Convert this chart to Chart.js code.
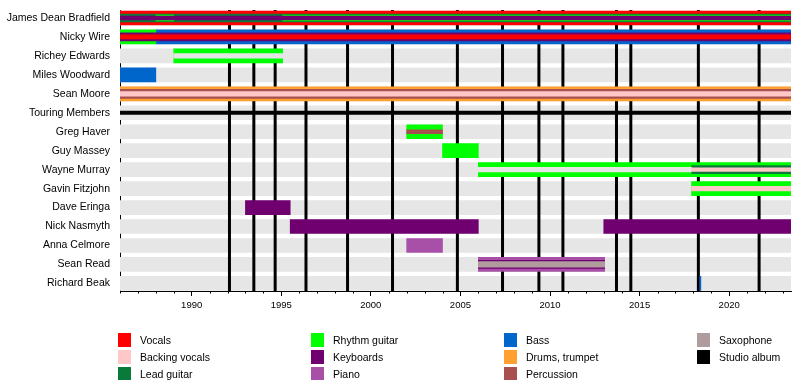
<!DOCTYPE html>
<html><head><meta charset="utf-8">
<script src="https://cdn.jsdelivr.net/npm/chart.js@4.4.0/dist/chart.umd.min.js"></script>
<style>
html,body{margin:0;padding:0;background:#fff;width:800px;height:380px;overflow:hidden;font-family:"Liberation Sans",Arial,sans-serif;}
#wrap{position:absolute;left:0;top:0;width:800px;height:380px;}
.li{position:absolute;font-size:10.5px;color:#000;white-space:nowrap;line-height:14px;}
.sw{position:absolute;width:13px;height:14px;}
</style></head><body>
<div id="wrap"><canvas id="c" width="800" height="380"></canvas></div>
<div id="legend"></div>
<script>
// ---------- data ----------
const START = 1986, END = 2023.45;
const members = ["James Dean Bradfield","Nicky Wire","Richey Edwards","Miles Woodward","Sean Moore","Touring Members","Greg Haver","Guy Massey","Wayne Murray","Gavin Fitzjohn","Dave Eringa","Nick Nasmyth","Anna Celmore","Sean Read","Richard Beak"];
const yearTicks = [1990,1995,2000,2005,2010,2015,2020];
const studioAlbums = [1992.11,1993.47,1994.66,1996.38,1998.70,2001.21,2004.83,2007.35,2009.38,2010.72,2013.71,2014.51,2018.28,2021.67];

// outer bars (full width)
const vocalsOuter = [["James Dean Bradfield",START,END]];
const rhythmOuter = [["Nicky Wire",START,1988],["Richey Edwards",1989,1995.08],["Greg Haver",2002,2004],["Guy Massey",2004,2006],["Wayne Murray",2006,END],["Gavin Fitzjohn",2017.9,END]];
const bassOuter = [["Nicky Wire",1988,END],["Miles Woodward",START,1988],["Richard Beak",2018.36,2018.42]];
const drumsOuter = [["Sean Moore",START,END]];
const keysOuter = [["Dave Eringa",1993,1995.5],["Nick Nasmyth",1995.5,2006],["Nick Nasmyth",2013,END]];
const pianoOuter = [["Anna Celmore",2002,2004],["Sean Read",2006,2013.05]];
const touringLine = [["Touring Members",START,END]];
// middle bars
const leadMid = [["James Dean Bradfield",START,END],["Wayne Murray",2017.9,END]];
const keysMid = [["Nicky Wire",START,END],["Sean Read",2006,2013.05]];
const percMid = [["Sean Moore",START,END]];
// inner bars
const rhythmInner = [["James Dean Bradfield",1988,1989],["James Dean Bradfield",1995.08,END]];
const gapInner = [["Richey Edwards",1989,1995.08],["Wayne Murray",2006,2017.9]];
const backingInner = [["Sean Moore",START,END],["Gavin Fitzjohn",2017.9,END]];
const percInner = [["Greg Haver",2002,2004]];
const saxInner = [["Sean Read",2006,2013.05]];
// innermost bars
const keysCore = [["James Dean Bradfield",START,END]];
const vocalsCore = [["Nicky Wire",START,END]];
const backingCore = [["Wayne Murray",2017.9,END]];

const legendLabels = ["Vocals","Backing vocals","Lead guitar","Rhythm guitar","Keyboards","Piano","Bass","Drums, trumpet","Percussion","Saxophone","Studio album"];
const C = {vocals:"#FF0000",backing:"#FFC8C8",lead:"#0A7A3A",rhythm:"#00FF00",keys:"#700070",piano:"#A850A8",bass:"#0066CC",drums:"#FFA030",perc:"#A85050",sax:"#B09C9C",album:"#000000",bg:"#E6E6E6"};
const legendColors = [C.vocals,C.backing,C.lead,C.rhythm,C.keys,C.piano,C.bass,C.drums,C.perc,C.sax,C.album];

// ---------- build ----------
const bgRows = members.map(m => [m, START, END]);
function ds(segs, color, thick, order){
  return {data: segs.map(s => ({x:[s[1], s[2]], y: members.indexOf(s[0])})),
    backgroundColor: color, barThickness: thick, order: order, borderWidth: 0, grouped: false};
}
const datasets = [
  Object.assign(ds(bgRows, C.bg, 14, 100), {id:"bg"}),
  ds(vocalsOuter, C.vocals, 14, 50), ds(rhythmOuter, C.rhythm, 14, 50), ds(bassOuter, C.bass, 14, 50),
  ds(drumsOuter, C.drums, 14, 50), ds(keysOuter, C.keys, 14, 50), ds(pianoOuter, C.piano, 14, 50),
  ds(touringLine, C.album, 3.3, 50),
  ds(leadMid, C.lead, 8, 40), ds(keysMid, C.keys, 8, 40), ds(percMid, C.perc, 9, 40),
  ds(rhythmInner, C.rhythm, 6, 30), ds(gapInner, C.bg, 4.5, 30), ds(backingInner, C.backing, 4.5, 30),
  ds(percInner, C.perc, 4, 30), ds(saxInner, C.sax, 5.5, 30),
  ds(keysCore, C.keys, 4, 20), ds(vocalsCore, C.vocals, 4, 20), ds(backingCore, C.backing, 3.5, 20)
];

const albumPlugin = {
  id: "albums",
  afterDatasetDraw(chart, args) {
    if (chart.data.datasets[args.index].id !== "bg") return;
    const ctx = chart.ctx, xs = chart.scales.x, a = chart.chartArea;
    ctx.save();
    ctx.strokeStyle = C.album; ctx.lineWidth = 3;
    studioAlbums.forEach(v => {
      const px = xs.getPixelForValue(v);
      ctx.beginPath(); ctx.moveTo(px, a.top); ctx.lineTo(px, a.bottom); ctx.stroke();
    });
    ctx.restore();
  },
  afterDraw(chart) {
    const ctx = chart.ctx, xs = chart.scales.x, a = chart.chartArea;
    ctx.save(); ctx.strokeStyle = "#000"; ctx.lineWidth = 1;
    for (let y = Math.ceil(START); y <= END; y++) {
      if (y % 5 === 0) continue;
      const px = Math.round(xs.getPixelForValue(y)) + 0.5;
      ctx.beginPath(); ctx.moveTo(px, a.bottom); ctx.lineTo(px, a.bottom + 2.5); ctx.stroke();
    }
    ctx.restore();
  }
};

const FONT = "'Liberation Sans', Arial, sans-serif";
new Chart(document.getElementById("c"), {
  type: "bar",
  data: { datasets },
  plugins: [albumPlugin],
  options: {
    indexAxis: "y", responsive: false, animation: false, devicePixelRatio: 1,
    layout: { padding: { top: 10, right: 9, left: 0, bottom: 0 } },
    plugins: { legend: { display: false }, tooltip: { enabled: false } },
    scales: {
      x: {
        type: "linear", min: START, max: END, position: "bottom",
        afterBuildTicks: s => { s.ticks = yearTicks.map(v => ({ value: v })); },
        afterFit: s => { s.height = 89; s.paddingLeft = 0; s.paddingRight = 0; },
        ticks: { callback: v => String(v), color: "#000", font: { family: FONT, size: 9.5 }, padding: 4, maxRotation: 0, autoSkip: false },
        grid: { drawOnChartArea: false, tickLength: 5, color: "#000", tickColor: "#000" },
        border: { display: true, color: "#000", width: 1 }
      },
      y: {
        type: "linear", reverse: true, min: -0.42, max: 14.40, offset: false,
        afterBuildTicks: s => { s.ticks = members.map((m, i) => ({ value: i })); },
        afterFit: s => { s.width = 120; s.paddingTop = 0; s.paddingBottom = 0; },
        ticks: { callback: v => members[v], color: "#000", font: { family: FONT, size: 10.5 }, padding: 10, autoSkip: false },
        grid: { drawOnChartArea: false, drawTicks: false, offset: false },
        border: { display: true, color: "#000", width: 1 }
      }
    }
  }
});

// legend (4 columns, column-major)
const lg = document.getElementById("legend");
legendLabels.forEach((lab, i) => {
  const col = Math.floor(i / 3), row = i % 3;
  const sx = 118 + col * 193, sy = 333 + row * 17;
  const sw = document.createElement("div"); sw.className = "sw";
  sw.style.left = sx + "px"; sw.style.top = sy + "px"; sw.style.background = legendColors[i];
  const tx = document.createElement("div"); tx.className = "li";
  tx.style.left = (sx + 22) + "px"; tx.style.top = sy + "px"; tx.textContent = lab;
  lg.appendChild(sw); lg.appendChild(tx);
});
</script>
</body></html>
